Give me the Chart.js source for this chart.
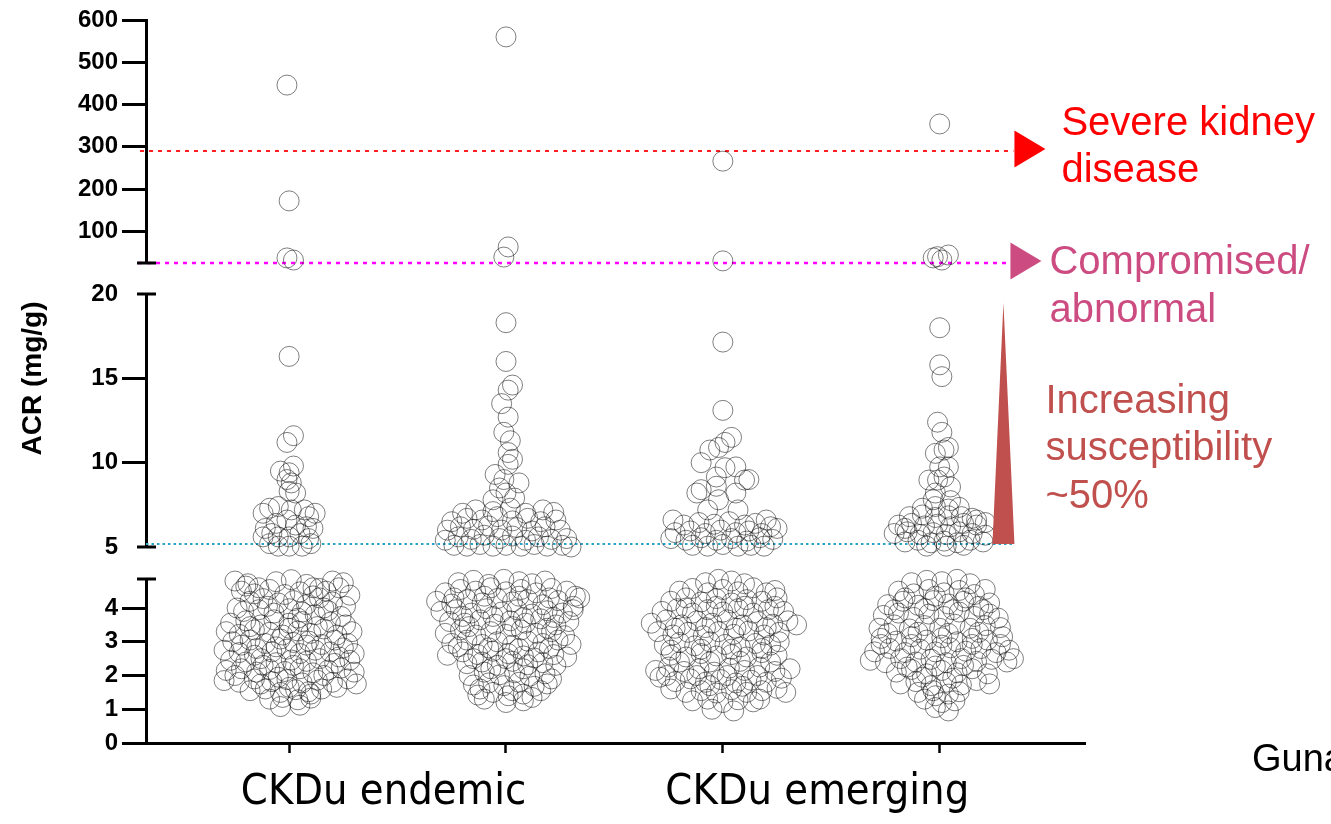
<!DOCTYPE html>
<html>
<head>
<meta charset="utf-8">
<script src="https://cdn.jsdelivr.net/npm/chart.js@4.4.1/dist/chart.umd.min.js"></script>
<style>
  html, body { margin: 0; padding: 0; background: #fff; }
  #wrap { width: 1331px; height: 824px; }
</style>
</head>
<body>
<div id="wrap"><canvas id="acr_chart"></canvas></div>
<script>
const groupLabels = ['CKDu endemic', 'CKDu emerging'];
const columns = [1, 2, 3, 4];

// each point: [sideways jitter in 1/100 of a column, ACR in mg/g]
const endemicA = [
  [-1,446],[0,172],[-1,37],[2,32],
  [0,16.3],[2,11.6],[-1,11.2],[2,9.8],[-4,9.5],[0,9.4],[-1,9.0],[1,8.8],[0,8.3],[3,8.2],
  [-9,7.3],[-5,7.4],[1,7.2],[7,7.2],[9,6.8],[-12,7.0],[12,7.0],
  [-11,6.1],[-6,6.4],[-1,6.6],[3,6.3],[11,6.1],[8,6.2],
  [-9,5.2],[-5,5.6],[0,5.6],[5,5.8],[9,5.5],[-8,5.8],[-12,5.6],
  [-5,5.05],[0,5.05],[6,5.05],[10,5.2],
  [-25,4.8],[-19,4.72],[-14,4.6],[-6,4.78],[1,4.84],[8,4.7],[14,4.58],[20,4.8],[25,4.75],
  [-22,4.5],[-16,4.42],[-9,4.55],[-2,4.4],[5,4.48],[11,4.36],[17,4.5],[23,4.6],[28,4.38],
  [-18,4.2],[-12,4.28],[-5,4.15],[2,4.22],[8,4.1],[14,4.3],[20,4.18],[26,4.05],
  [-21,3.9],[-14,3.95],[-7,3.85],[0,3.98],[6,3.88],[12,3.8],[18,3.92],[24,3.75],
  [-27,3.55],[-20,3.62],[-13,3.5],[-7,3.65],[0,3.55],[6,3.6],[13,3.45],[19,3.58],[26,3.5],
  [-29,3.3],[-23,3.22],[-16,3.35],[-9,3.28],[-3,3.2],[4,3.32],[10,3.25],[16,3.38],[22,3.2],[29,3.3],
  [-26,3.0],[-18,3.05],[-11,2.95],[-4,3.08],[2,2.98],[9,3.02],[15,2.92],[21,3.05],[27,2.95],
  [-30,2.75],[-23,2.68],[-15,2.8],[-8,2.7],[-1,2.78],[5,2.65],[12,2.75],[19,2.7],[25,2.82],[30,2.65],
  [-27,2.45],[-20,2.4],[-13,2.5],[-6,2.38],[1,2.46],[8,2.42],[14,2.5],[21,2.36],[28,2.45],
  [-29,2.15],[-22,2.2],[-15,2.1],[-9,2.18],[-2,2.12],[5,2.2],[11,2.08],[18,2.16],[24,2.22],[30,2.1],
  [-30,1.85],[-23,1.8],[-16,1.9],[-8,1.82],[-1,1.88],[6,1.78],[13,1.86],[20,1.8],[27,1.9],[31,1.75],
  [-18,1.55],[-11,1.6],[-4,1.5],[3,1.58],[9,1.52],[15,1.6],
  [-9,1.3],[-3,1.35],[4,1.28],[10,1.33],
  [-4,1.08],[5,1.12],
  [-24,4.0],[-10,4.05],[4,3.7],[16,4.0],[-18,3.45],[0,3.4],[-22,2.9],[-6,2.85],[8,2.9],[23,2.55],
  [-16,2.6],[2,2.3],[-12,2.3],[16,2.0],[-5,1.95],[-25,2.0],[22,1.65],[-13,1.75],[0,1.65],[10,1.45],
  [-20,4.65],[11,4.6]
];

const endemicB = [
  [0,560],[1,63],[-1,39],
  [0,18.3],[0,16.0],[3,14.6],[1,14.3],[-2,13.5],[1,12.7],[-1,11.8],[2,11.3],[1,10.6],[3,10.2],
  [1,9.9],[-5,9.3],[-1,9.0],[6,8.8],[-3,8.5],[0,8.2],[4,7.9],[-6,7.8],
  [-20,7.0],[-14,7.2],[-6,7.1],[2,7.3],[9,7.0],[17,7.2],[22,7.05],
  [-25,6.5],[-18,6.7],[-11,6.6],[-4,6.8],[3,6.55],[10,6.7],[16,6.5],[23,6.6],
  [-27,6.0],[-21,6.2],[-15,6.05],[-8,6.25],[-2,6.0],[5,6.15],[12,5.95],[18,6.2],[25,6.0],
  [-28,5.4],[-22,5.6],[-16,5.45],[-10,5.7],[-3,5.5],[3,5.65],[9,5.4],[15,5.6],[21,5.45],[28,5.5],
  [-24,5.1],[-18,5.05],[-12,5.15],[-6,5.05],[0,5.1],[7,5.05],[13,5.15],[19,5.05],[26,5.1],[30,5.0],
  [-22,4.75],[-15,4.82],[-8,4.7],[-1,4.85],[6,4.78],[12,4.72],[18,4.8],
  [-28,4.45],[-21,4.55],[-14,4.5],[-7,4.6],[0,4.48],[7,4.55],[14,4.45],[21,4.58],[28,4.5],[32,4.35],
  [-32,4.2],[-25,4.12],[-18,4.25],[-11,4.15],[-4,4.28],[3,4.18],[10,4.25],[17,4.1],[24,4.22],[31,4.05],[34,4.3],
  [-30,3.9],[-23,3.95],[-16,3.85],[-9,3.98],[-2,3.88],[5,3.95],[12,3.82],[19,3.92],[26,3.85],[31,3.95],
  [-26,3.6],[-19,3.55],[-12,3.65],[-5,3.52],[2,3.62],[9,3.55],[16,3.68],[23,3.5],[29,3.6],
  [-28,3.25],[-21,3.35],[-14,3.2],[-7,3.3],[0,3.22],[7,3.35],[14,3.25],[21,3.3],[27,3.18],
  [-25,2.95],[-18,3.05],[-11,2.92],[-4,3.0],[3,2.9],[10,3.02],[17,2.95],[24,3.05],[30,2.92],
  [-27,2.6],[-20,2.7],[-13,2.62],[-6,2.72],[1,2.65],[8,2.58],[15,2.7],[22,2.62],[28,2.55],
  [-18,2.35],[-11,2.4],[-4,2.3],[3,2.42],[10,2.32],[17,2.38],[23,2.3],
  [-17,2.0],[-10,2.1],[-3,2.02],[4,2.08],[11,1.98],[18,2.05],[21,1.9],
  [-15,1.72],[-8,1.78],[-1,1.7],[6,1.8],[13,1.68],[19,1.75],
  [-13,1.42],[-6,1.5],[1,1.4],[8,1.45],[12,1.35],
  [-10,1.3],[0,1.2],[8,1.25],
  [-24,4.3],[-10,4.35],[6,4.35],[20,4.3],[-20,3.75],[-6,3.75],[8,3.72],[22,3.72],[-17,3.45],[3,3.45],
  [19,3.4],[-22,2.85],[-8,2.82],[6,2.8],[20,2.8],[-15,2.5],[0,2.5],[13,2.52],[-7,2.2],[8,2.2],
  [-12,1.6],[3,1.55],[16,1.55]
];

const emergingA = [
  [0,266],[0,30],
  [0,17.15],[0,13.1],[4,11.5],[1,11.2],[-2,10.9],[-6,10.75],[-10,10.0],[6,9.75],[1,9.7],
  [10,8.97],[-3,9.15],[-3,8.6],[12,9.0],[-10,8.4],[-12,8.2],[6,8.2],[-2,7.8],[-7,7.2],[7,7.2],
  [-23,6.6],[22,6.2],[20,6.6],
  [-18,6.3],[-11,6.45],[-4,6.35],[3,6.5],[10,6.3],[15,6.4],
  [-22,5.85],[-15,5.95],[-8,5.8],[-1,6.0],[6,5.85],[12,5.95],[18,5.8],[25,6.1],
  [-24,5.5],[-17,5.4],[-10,5.55],[-3,5.4],[4,5.5],[11,5.35],[17,5.55],[23,5.45],
  [-14,5.1],[-7,5.05],[0,5.15],[7,5.05],[13,5.1],[19,5.05],
  [-8,4.75],[-2,4.85],[4,4.8],[10,4.72],
  [-20,4.5],[-14,4.58],[-7,4.45],[0,4.55],[7,4.48],[14,4.6],[20,4.45],[24,4.52],
  [-24,4.2],[-17,4.3],[-10,4.18],[-3,4.28],[4,4.15],[11,4.25],[18,4.2],[25,4.3],
  [-28,3.9],[-21,3.98],[-14,3.85],[-7,3.95],[0,3.88],[7,3.98],[14,3.85],[21,3.95],[28,3.9],
  [-33,3.55],[-26,3.65],[-19,3.5],[-12,3.62],[-5,3.55],[2,3.65],[9,3.5],[16,3.6],[23,3.52],[30,3.62],[34,3.5],
  [-30,3.3],[-23,3.2],[-16,3.28],[-9,3.18],[-2,3.3],[5,3.22],[12,3.32],[19,3.2],[26,3.28],
  [-27,2.9],[-20,2.98],[-13,2.88],[-6,3.0],[1,2.92],[8,2.85],[15,2.95],[22,2.9],[26,3.0],
  [-24,2.6],[-17,2.55],[-10,2.65],[-3,2.58],[4,2.62],[11,2.55],[18,2.68],[25,2.6],
  [-31,2.15],[-25,2.25],[-18,2.12],[-11,2.2],[-4,2.1],[3,2.22],[10,2.15],[17,2.25],[24,2.12],[31,2.2],
  [-29,1.95],[-22,1.82],[-15,1.9],[-8,1.8],[-1,1.88],[6,1.78],[13,1.86],[20,1.8],[27,1.92],
  [-24,1.6],[-17,1.5],[-10,1.55],[-3,1.48],[4,1.58],[11,1.5],[18,1.55],[25,1.62],[29,1.5],
  [-14,1.25],[-7,1.3],[0,1.2],[7,1.28],[14,1.22],[17,1.3],
  [-5,1.0],[5,0.95],
  [-17,4.0],[-3,4.05],[10,4.05],[24,4.05],[-22,3.4],[-8,3.42],[6,3.4],[20,3.42],[-24,2.75],[-10,2.78],
  [4,2.78],[18,2.8],[-20,2.4],[-6,2.4],[8,2.42],[22,2.4],[-26,2.0],[-12,2.0],[2,2.0],[16,2.0],
  [-6,1.7],[9,1.68]
];

const emergingB = [
  [0,354],[-3,37],[4,44],[1,32],[-1,40],
  [0,18.0],[0,15.8],[1,15.1],[-1,12.4],[1,11.8],[2,10.75],[-2,10.55],[4,10.9],[0,9.75],[4,9.74],
  [-1,8.97],[-5,8.97],[2,9.15],[-2,8.2],[5,8.56],[-3,7.8],[5,7.75],
  [-8,7.3],[-2,7.4],[4,7.25],[9,7.35],
  [-14,6.8],[-8,6.9],[-2,6.75],[4,6.85],[10,6.8],[15,6.7],[17,6.6],
  [-19,6.3],[-13,6.4],[-7,6.25],[-1,6.35],[5,6.2],[11,6.4],[17,6.3],[21,6.45],[-16,6.1],
  [-21,5.8],[-15,5.9],[-9,5.75],[-3,5.85],[3,5.75],[9,5.9],[15,5.8],[21,5.7],
  [-16,5.3],[-10,5.4],[-4,5.25],[2,5.35],[8,5.25],[14,5.4],[20,5.3],
  [-6,5.05],[3,5.05],[11,5.1],
  [-13,4.75],[-6,4.82],[1,4.78],[8,4.85],[14,4.72],
  [-19,4.5],[-12,4.42],[-5,4.55],[2,4.45],[9,4.52],[16,4.4],[21,4.55],
  [-24,4.1],[-17,4.2],[-10,4.08],[-3,4.22],[4,4.12],[11,4.2],[18,4.05],[23,4.15],
  [-26,3.78],[-19,3.85],[-12,3.72],[-5,3.82],[2,3.75],[9,3.88],[16,3.75],[23,3.82],[27,3.7],
  [-28,3.4],[-21,3.5],[-14,3.38],[-7,3.48],[0,3.4],[7,3.52],[14,3.4],[21,3.48],[28,3.42],
  [-27,3.1],[-20,3.02],[-13,3.15],[-6,3.05],[1,3.12],[8,3.0],[15,3.1],[22,3.05],[29,3.15],
  [-30,2.7],[-23,2.8],[-16,2.68],[-9,2.78],[-2,2.7],[5,2.82],[12,2.72],[19,2.8],[26,2.68],[32,2.75],
  [-32,2.45],[-25,2.38],[-18,2.5],[-11,2.4],[-4,2.48],[3,2.38],[10,2.5],[17,2.42],[24,2.48],[31,2.4],[34,2.5],
  [-20,2.1],[-13,2.18],[-6,2.05],[1,2.15],[8,2.08],[15,2.2],[22,2.05],
  [-18,1.75],[-11,1.82],[-4,1.7],[3,1.8],[10,1.72],[17,1.85],[23,1.75],
  [-10,1.5],[-3,1.55],[4,1.45],[9,1.52],
  [-7,1.3],[1,1.2],[7,1.25],
  [-2,1.05],[4,0.95],
  [-16,4.3],[-2,4.35],[12,4.3],[-21,3.95],[-7,3.98],[6,3.95],[20,3.95],[-24,3.25],[-10,3.28],[4,3.25],
  [18,3.28],[-27,2.92],[-13,2.92],[1,2.9],[15,2.92],[28,2.92],[-15,2.25],[-2,2.28],[11,2.3],[-8,1.95],
  [6,1.92],[-2,1.4]
];

const topTicks = [100, 200, 300, 400, 500, 600];
const midTicks = [5, 10, 15, 20];
const lowTicks = [0, 1, 2, 3, 4];

// reference levels (mg/g)
const severeLevel = 290;
const abnormalLevel = 25;
const susceptLevel = 5.18;

const segments = [
  { axis: 'yTop', keep: v => v >= 22 },
  { axis: 'yMid', keep: v => v >= 5 && v < 22 },
  { axis: 'yLow', keep: v => v < 5 }
];

const datasets = [];
[endemicA, endemicB, emergingA, emergingB].forEach((pts, i) => {
  segments.forEach(seg => {
    datasets.push({
      data: pts.filter(p => seg.keep(p[1])).map(p => ({ x: columns[i] + p[0] / 100, y: p[1] })),
      yAxisID: seg.axis,
      pointRadius: 10,
      pointBorderWidth: 1,
      pointBorderColor: 'rgba(0,0,0,0.5)',
      pointBackgroundColor: 'rgba(0,0,0,0)',
      showLine: false,
      clip: false
    });
  });
});

const AXIS_W = 146;
const tickFont = { family: 'Liberation Sans, Arial, sans-serif', size: 24, weight: 'bold' };

function yAxis(min, max, ticks, weight, capped) {
  return {
    type: 'linear', position: 'left', stack: 'acr', stackWeight: weight,
    min: min, max: max,
    afterBuildTicks: s => { s.ticks = ticks.map(v => ({ value: v })); },
    afterFit: s => { s.width = AXIS_W; },
    border: { display: true, color: '#000', width: 3 },
    grid: {
      drawOnChartArea: false, tickLength: 24, tickWidth: 3,
      tickColor: ctx => (capped.includes(ctx.tick.value) ? 'rgba(0,0,0,0)' : '#000')
    },
    ticks: { color: '#000', font: tickFont, padding: 4, autoSkip: false }
  };
}

function gapAxis(weight) {
  return {
    type: 'linear', position: 'left', stack: 'acr', stackWeight: weight,
    min: 0, max: 1,
    afterFit: s => { s.width = AXIS_W; },
    border: { display: false },
    grid: { display: false },
    ticks: { display: false }
  };
}

const decorations = {
  id: 'decorations',
  beforeDatasetsDraw(chart) {
    const { ctx, scales: { x, yTop, yMid } } = chart;
    const lineEnd = x.getPixelForValue(4.34);
    const dotted = (y, x0, x1, color, width, dash) => {
      ctx.save();
      ctx.strokeStyle = color; ctx.lineWidth = width; ctx.setLineDash(dash);
      ctx.beginPath(); ctx.moveTo(x0, y); ctx.lineTo(x1, y); ctx.stroke();
      ctx.restore();
    };
    dotted(yTop.getPixelForValue(severeLevel), x.left - 6, lineEnd, '#ff2020', 2, [4, 5]);
    dotted(yTop.getPixelForValue(abnormalLevel), x.left - 8, lineEnd - 3, '#ff00ff', 2.5, [4, 5]);
    dotted(yMid.getPixelForValue(susceptLevel), x.left, lineEnd, '#2aa4c6', 2, [2.5, 3]);
  },
  afterDraw(chart) {
    const { ctx, scales: { x, yTop, yMid, yLow } } = chart;
    const axisX = x.left;
    const lineEnd = x.getPixelForValue(4.34);
    ctx.save();
    // axis break caps
    ctx.strokeStyle = '#000'; ctx.lineWidth = 3;
    [yTop.bottom, yMid.top, yMid.bottom, yLow.top].forEach(y => {
      ctx.beginPath(); ctx.moveTo(axisX - 9, y); ctx.lineTo(axisX + 10, y); ctx.stroke();
    });
    const tri = (x0, yc, color) => {
      ctx.fillStyle = color;
      ctx.beginPath(); ctx.moveTo(x0, yc - 18.5); ctx.lineTo(x0 + 31, yc); ctx.lineTo(x0, yc + 18.5);
      ctx.closePath(); ctx.fill();
    };
    const redY = yTop.getPixelForValue(severeLevel);
    const magY = yTop.getPixelForValue(abnormalLevel);
    const cyanY = yMid.getPixelForValue(susceptLevel);
    tri(lineEnd + 1, redY - 2, '#ff0000');
    tri(lineEnd - 3, magY - 2, '#cc4c82');
    // susceptibility wedge
    ctx.fillStyle = '#c0504d';
    ctx.beginPath();
    ctx.moveTo(lineEnd - 21, cyanY);
    ctx.lineTo(lineEnd - 10, yMid.getPixelForValue(19.46));
    ctx.lineTo(lineEnd + 1, cyanY);
    ctx.closePath(); ctx.fill();

    ctx.textAlign = 'left'; ctx.textBaseline = 'alphabetic';
    ctx.font = '40px "Liberation Sans", Arial, sans-serif';
    ctx.fillStyle = '#ff0000';
    ctx.fillText('Severe kidney', lineEnd + 48, redY - 16);
    ctx.fillText('disease', lineEnd + 48, redY + 31);
    ctx.fillStyle = '#cc4c82';
    ctx.fillText('Compromised/', lineEnd + 36, magY + 11);
    ctx.fillText('abnormal', lineEnd + 36, magY + 59);
    ctx.fillStyle = '#c0504d';
    ctx.fillText('Increasing', lineEnd + 32, magY + 150);
    ctx.fillText('susceptibility', lineEnd + 32, magY + 197);
    ctx.fillText('~50%', lineEnd + 32, magY + 245);
    ctx.fillStyle = '#000';
    ctx.font = '38px "Liberation Sans", Arial, sans-serif';
    ctx.fillText('Guna', chart.width - 79, x.top + 28);

    // y axis title
    ctx.font = 'bold 28px "Liberation Sans", Arial, sans-serif';
    ctx.textAlign = 'center'; ctx.textBaseline = 'middle';
    ctx.translate(33, (yTop.top + yLow.bottom) / 2 - 3);
    ctx.rotate(-Math.PI / 2);
    ctx.fillText('ACR (mg/g)', 0, 0);
    ctx.restore();
  }
};

new Chart(document.getElementById('acr_chart'), {
  type: 'scatter',
  data: { datasets: datasets },
  options: {
    responsive: true,
    maintainAspectRatio: false,
    animation: false,
    layout: { padding: { top: 20, right: 246, bottom: 0, left: 0 } },
    plugins: { legend: { display: false }, tooltip: { enabled: false } },
    scales: {
      x: {
        type: 'linear', position: 'bottom', min: 0.34, max: 4.67,
        afterBuildTicks: s => {
          s.ticks = [1, 1.5, 2, 3, 3.5, 4].map(v => ({ value: v }));
        },
        afterFit: s => { s.height = 81; },
        border: { display: true, color: '#000', width: 3 },
        grid: {
          drawOnChartArea: false, tickLength: 10, tickWidth: 2.5,
          tickColor: ctx => (Number.isInteger(ctx.tick.value) ? '#000' : 'rgba(0,0,0,0)')
        },
        ticks: {
          color: '#000', autoSkip: false, maxRotation: 0, padding: 14, labelOffset: -14,
          font: { family: '"Liberation Sans Narrow", "Arial Narrow", "DejaVu Sans Condensed", sans-serif', size: 43 },
          callback: v => (v === 1.5 ? groupLabels[0] : v === 3.5 ? groupLabels[1] : '')
        }
      },
      yLow: yAxis(0, 4.86, lowTicks, 164, []),
      gapLow: gapAxis(32),
      yMid: yAxis(5, 20, midTicks, 253, [5, 20]),
      gapHigh: gapAxis(31),
      yTop: yAxis(25, 600, topTicks, 243, [])
    }
  },
  plugins: [decorations]
});
</script>
</body>
</html>
